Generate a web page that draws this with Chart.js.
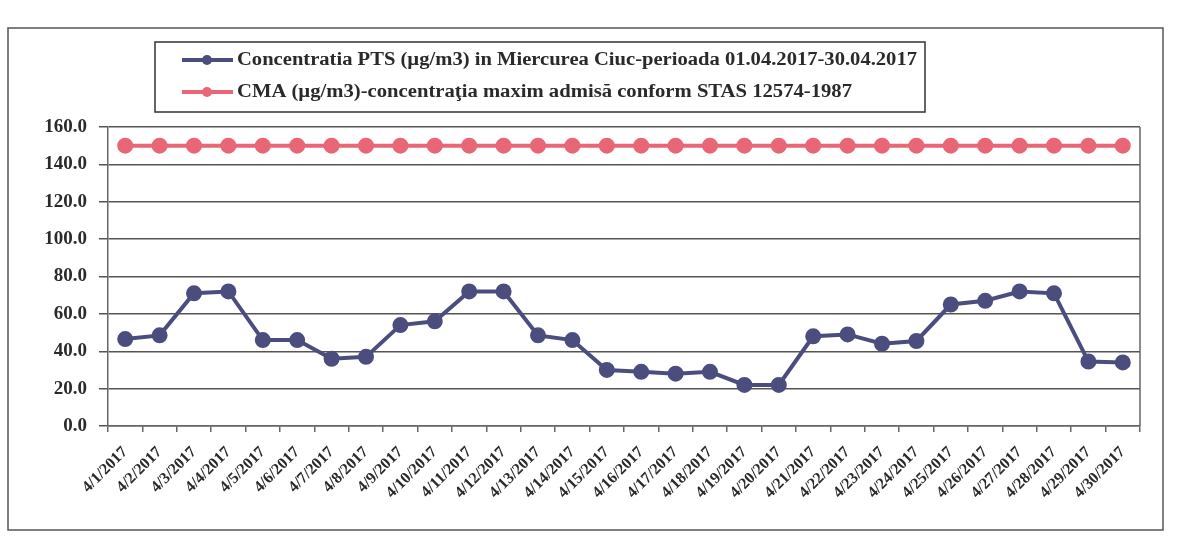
<!DOCTYPE html>
<html>
<head>
<meta charset="utf-8">
<script src="https://cdn.jsdelivr.net/npm/chart.js@4.4.0/dist/chart.umd.min.js"></script>
<style>
html,body{margin:0;padding:0;background:#fff;}
#wrap{width:1182px;height:540px;position:relative;}
</style>
</head>
<body>
<div id="wrap"><canvas id="c" width="1182" height="540"></canvas></div>
<script>
const categories = ["4/1/2017","4/2/2017","4/3/2017","4/4/2017","4/5/2017","4/6/2017","4/7/2017","4/8/2017","4/9/2017","4/10/2017",
  "4/11/2017","4/12/2017","4/13/2017","4/14/2017","4/15/2017","4/16/2017","4/17/2017","4/18/2017","4/19/2017","4/20/2017",
  "4/21/2017","4/22/2017","4/23/2017","4/24/2017","4/25/2017","4/26/2017","4/27/2017","4/28/2017","4/29/2017","4/30/2017"];
const ptsValues = [46.5,48.5,71,72,46,46,36,37,54,56,72,72,48.5,46,30,29,28,29,22,22,48,49,44,45.5,65,67,72,71,34.5,34];
const cmaValues = [150,150,150,150,150,150,150,150,150,150,150,150,150,150,150,150,150,150,150,150,150,150,150,150,150,150,150,150,150,150];
const yTicks = [0,20,40,60,80,100,120,140,160];
const seriesLabels = [
  "Concentratia PTS (\u00b5g/m3) in Miercurea Ciuc-perioada 01.04.2017-30.04.2017",
  "CMA (\u00b5g/m3)-concentra\u0163ia maxim admis\u0103 conform STAS 12574-1987"
];

const BLUE = "#4b4d7e";
const RED = "#e86676";
const TXT = "#2a2a2a";
const SERIF = "'Liberation Serif','Times New Roman',serif";

const framePlugin = {
  id: 'framePlugin',
  beforeDraw(chart) {
    const ctx = chart.ctx;
    ctx.save();
    ctx.fillStyle = '#fff';
    ctx.fillRect(0, 0, chart.width, chart.height);
    ctx.strokeStyle = '#555';
    ctx.lineWidth = 1.5;
    ctx.strokeRect(8, 28, 1155, 502);
    ctx.restore();
  },
  afterDraw(chart) {
    const ctx = chart.ctx;
    const a = chart.chartArea;
    ctx.save();
    ctx.strokeStyle = '#666';
    ctx.lineWidth = 1.5;
    ctx.beginPath();
    ctx.moveTo(a.right, a.top);
    ctx.lineTo(a.right, a.bottom);
    ctx.stroke();
    const bx = 155, by = 42, bw = 770, bh = 70;
    ctx.fillStyle = '#fff';
    ctx.fillRect(bx, by, bw, bh);
    ctx.strokeStyle = '#333';
    ctx.lineWidth = 1.5;
    ctx.strokeRect(bx, by, bw, bh);
    const rows = [60, 92];
    const colors = [BLUE, RED];
    const targetW = [680, 615];
    chart.data.datasets.forEach((ds, i) => {
      const y = rows[i];
      ctx.strokeStyle = colors[i];
      ctx.lineWidth = 4;
      ctx.beginPath();
      ctx.moveTo(182, y);
      ctx.lineTo(233, y);
      ctx.stroke();
      ctx.fillStyle = colors[i];
      ctx.beginPath();
      ctx.arc(207, y, 5, 0, Math.PI * 2);
      ctx.fill();
      ctx.font = "bold 18px " + SERIF;
      const w = ctx.measureText(ds.label).width;
      ctx.fillStyle = TXT;
      ctx.textBaseline = 'middle';
      ctx.textAlign = 'left';
      ctx.save();
      ctx.translate(237, y);
      ctx.scale(targetW[i] / w, 1);
      ctx.fillText(ds.label, 0, 0);
      ctx.restore();
    });
    ctx.restore();
  }
};

new Chart(document.getElementById('c'), {
  type: 'line',
  data: {
    labels: categories,
    datasets: [
      {
        label: seriesLabels[0],
        data: ptsValues,
        borderColor: BLUE,
        backgroundColor: BLUE,
        borderWidth: 4,
        pointRadius: 6,
        pointHoverRadius: 6,
        pointBackgroundColor: BLUE,
        pointBorderColor: BLUE,
        tension: 0
      },
      {
        label: seriesLabels[1],
        data: cmaValues,
        borderColor: RED,
        backgroundColor: RED,
        borderWidth: 4,
        pointRadius: 6,
        pointHoverRadius: 6,
        pointBackgroundColor: RED,
        pointBorderColor: RED,
        tension: 0
      }
    ]
  },
  options: {
    responsive: false,
    animation: false,
    devicePixelRatio: 1,
    layout: { padding: { left: 0, right: 42, top: 127, bottom: 0 } },
    plugins: { legend: { display: false }, tooltip: { enabled: false } },
    scales: {
      x: {
        type: 'category',
        offset: true,
        grid: { display: true, drawOnChartArea: false, drawTicks: true, tickLength: 6, offset: true, color: '#666', lineWidth: 1.5 },
        border: { display: true, color: '#666', width: 1.5 },
        ticks: {
          autoSkip: false,
          minRotation: 45,
          maxRotation: 45,
          padding: 11,
          color: TXT,
          font: { family: SERIF, size: 16, weight: 'bold' }
        },
        afterFit(s) { s.height = 114; }
      },
      y: {
        min: 0,
        max: 160,
        afterBuildTicks(s) { s.ticks = yTicks.map(v => ({ value: v })); },
        grid: { color: '#555', lineWidth: 1.5, drawTicks: true, tickLength: 9 },
        border: { display: true, color: '#666', width: 1.5 },
        ticks: {
          padding: 12,
          color: TXT,
          font: { family: SERIF, size: 19, weight: 'bold' },
          callback: v => Number(v).toFixed(1)
        },
        afterFit(s) { s.width = 108; }
      }
    }
  },
  plugins: [framePlugin]
});
</script>
</body>
</html>
